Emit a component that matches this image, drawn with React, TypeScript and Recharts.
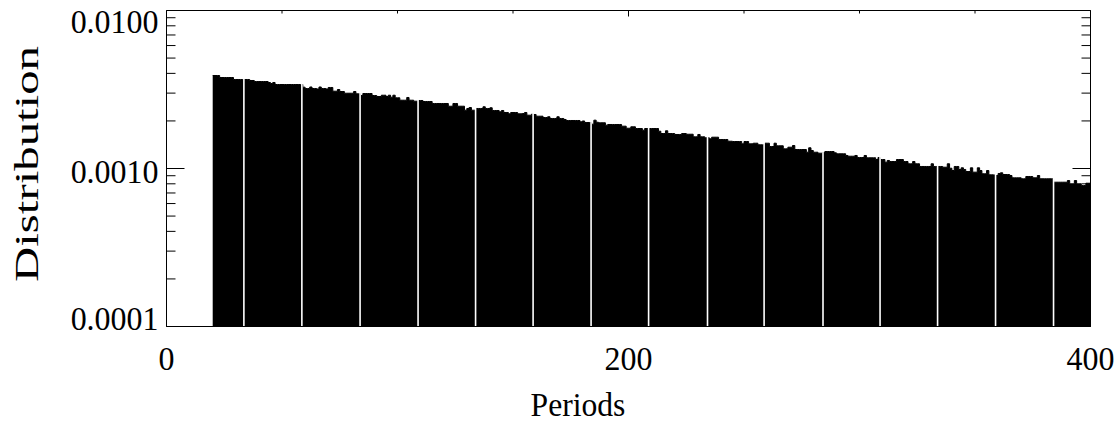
import { AreaChart, Area, XAxis, YAxis, ReferenceLine } from "recharts";

// histogram bins of width 1, starting at period 20
const firstPeriod = 20;
const binWidth = 1;

// bin heights, in units of 0.001 (periods 20..399)
const distributionMilli = [
  3.878, 3.878, 3.878, 3.766, 3.766, 3.766, 3.766, 3.766, 3.766, 3.659, // 20
  3.659, 3.659, 3.659, 3.659, 3.659, 3.659, 3.606, 3.606, 3.552, 3.552, // 30
  3.552, 3.552, 3.552, 3.552, 3.502, 3.451, 3.502, 3.401, 3.401, 3.401, // 40
  3.401, 3.401, 3.401, 3.401, 3.401, 3.401, 3.401, 3.401, 3.401, 3.271, // 50
  3.209, 3.209, 3.28, 3.209, 3.209, 3.186, 3.28, 3.209, 3.209, 3.186, // 60
  3.257, 3.257, 3.085, 3.085, 3.162, 3.071, 3.071, 2.996, 2.996, 2.996, // 70
  2.996, 3.071, 2.97, 2.97, 2.897, 2.983, 2.983, 2.983, 2.983, 2.897, // 80
  2.897, 2.856, 2.856, 2.91, 2.91, 2.856, 2.91, 2.827, 2.91, 2.802, // 90
  2.802, 2.706, 2.706, 2.706, 2.815, 2.706, 2.706, 2.667, 2.667, 2.694, // 100
  2.694, 2.655, 2.655, 2.655, 2.655, 2.579, 2.579, 2.579, 2.579, 2.579, // 110
  2.579, 2.579, 2.479, 2.479, 2.579, 2.579, 2.479, 2.479, 2.479, 2.339, // 120
  2.398, 2.433, 2.339, 2.339, 2.398, 2.398, 2.398, 2.458, 2.398, 2.398, // 130
  2.423, 2.329, 2.329, 2.329, 2.285, 2.329, 2.262, 2.262, 2.219, 2.262, // 140
  2.262, 2.262, 2.219, 2.219, 2.229, 2.262, 2.175, 2.175, 2.207, 2.197, // 150
  2.143, 2.143, 2.143, 2.103, 2.103, 2.125, 2.073, 2.073, 2.073, 2.125, // 160
  2.073, 2.073, 2.043, 2.013, 2.013, 2.013, 2.013, 2.013, 2.013, 1.975, // 170
  1.999, 1.955, 1.955, 1.955, 1.907, 2.022, 1.963, 1.947, 1.947, 1.947, // 180
  1.88, 1.899, 1.899, 1.899, 1.899, 1.899, 1.899, 1.853, 1.853, 1.799, // 190
  1.799, 1.836, 1.836, 1.791, 1.791, 1.791, 1.747, 1.791, 1.791, 1.791, // 200
  1.791, 1.791, 1.791, 1.722, 1.665, 1.665, 1.732, 1.665, 1.665, 1.665, // 210
  1.642, 1.642, 1.642, 1.665, 1.665, 1.648, 1.648, 1.648, 1.587, 1.587, // 220
  1.642, 1.587, 1.587, 1.564, 1.564, 1.542, 1.578, 1.578, 1.578, 1.526, // 230
  1.526, 1.526, 1.526, 1.488, 1.488, 1.482, 1.482, 1.482, 1.482, 1.433, // 240
  1.482, 1.482, 1.433, 1.433, 1.446, 1.446, 1.413, 1.413, 1.413, 1.446, // 250
  1.446, 1.378, 1.378, 1.446, 1.392, 1.392, 1.392, 1.332, 1.332, 1.364, // 260
  1.364, 1.398, 1.319, 1.319, 1.319, 1.319, 1.319, 1.268, 1.352, 1.3, // 270
  1.268, 1.268, 1.25, 1.25, 1.263, 1.281, 1.281, 1.281, 1.281, 1.257, // 280
  1.239, 1.239, 1.239, 1.239, 1.209, 1.196, 1.196, 1.196, 1.209, 1.174, // 290
  1.174, 1.174, 1.209, 1.169, 1.169, 1.169, 1.169, 1.14, 1.174, 1.14, // 300
  1.14, 1.096, 1.124, 1.107, 1.107, 1.107, 1.14, 1.14, 1.14, 1.107, // 310
  1.107, 1.071, 1.071, 1.107, 1.071, 1.071, 1.03, 1.03, 1.03, 1.03, // 320
  1.03, 1.071, 1.03, 1.03, 1.03, 1.03, 1.019, 1.019, 1.071, 1.004, // 330
  0.971, 1.03, 1.03, 0.986, 1.01, 0.986, 0.957, 0.957, 1.01, 0.948, // 340
  0.948, 1.01, 0.971, 0.926, 0.926, 0.971, 0.912, 0.912, 0.91, 0.903, // 350
  0.93, 0.939, 0.916, 0.916, 0.916, 0.903, 0.873, 0.873, 0.873, 0.873, // 360
  0.861, 0.861, 0.89, 0.89, 0.89, 0.873, 0.873, 0.903, 0.861, 0.861, // 370
  0.861, 0.861, 0.861, 0.861, 0.819, 0.819, 0.819, 0.819, 0.819, 0.819, // 380
  0.839, 0.8, 0.8, 0.839, 0.8, 0.8, 0.78, 0.78, 0.807, 0.807, // 390
];

const xTicks = [0, 50, 100, 150, 200, 250, 300, 350, 400];
const xMajorTicks = [0, 200, 400];
const yTicks = [
  0.0001, 0.0002, 0.0003, 0.0004, 0.0005, 0.0006, 0.0007, 0.0008, 0.0009,
  0.001, 0.002, 0.003, 0.004, 0.005, 0.006, 0.007, 0.008, 0.009, 0.01,
];
const yMajorTicks = [0.0001, 0.001, 0.01];

// thin white seams that show up inside the filled histogram
const seamPeriods = [33.5, 58.6, 83.8, 108.9, 133.8, 158.7, 183.8, 208.7, 234.2, 258.7, 284.2, 308.9, 333.8, 358.9, 384.0];

const rows = distributionMilli.map((m, i) => ({
  period: firstPeriod + i * binWidth,
  value: m / 1000,
}));
// close the last step at the right edge of the final bin
rows.push({ period: firstPeriod + distributionMilli.length * binWidth, value: rows[rows.length - 1].value });

const PLOT_LEFT = 166.5;
const PLOT_RIGHT = 1090.5;
const PLOT_TOP = 10.5;
const PLOT_BOTTOM = 326.5;
const FONT = '"Liberation Serif", "Times New Roman", serif';

function YTick({ y, payload }: any) {
  const major = yMajorTicks.includes(payload.value);
  const len = major ? 18 : 9;
  const base = Math.min(Math.max(y + 14.5, 33), 330);
  return (
    <g>
      <line x1={PLOT_LEFT} x2={PLOT_LEFT + len} y1={y} y2={y} stroke="#000" />
      <line x1={PLOT_RIGHT - len} x2={PLOT_RIGHT} y1={y} y2={y} stroke="#000" />
      {major && (
        <g transform={`translate(158.5, ${base}) scale(0.94, 1)`}>
          <text textAnchor="end" fontFamily={FONT} fontSize={34} fill="#000">
            {payload.value.toFixed(4)}
          </text>
        </g>
      )}
    </g>
  );
}

function XTick({ x, payload }: any) {
  const major = xMajorTicks.includes(payload.value);
  const len = major ? 6 : 3;
  return (
    <g>
      <line x1={x} x2={x} y1={PLOT_BOTTOM} y2={PLOT_BOTTOM - len} stroke="#000" />
      <line x1={x} x2={x} y1={PLOT_TOP} y2={PLOT_TOP + len} stroke="#000" />
      {major && (
        <g transform={`translate(${x}, 369.5) scale(0.94, 1)`}>
          <text textAnchor="middle" fontFamily={FONT} fontSize={34} fill="#000">
            {payload.value}
          </text>
        </g>
      )}
    </g>
  );
}

function PeriodsLabel() {
  return (
    <g transform="translate(578, 416) scale(0.93, 1)">
      <text textAnchor="middle" fontFamily={FONT} fontSize={34} fill="#000">
        Periods
      </text>
    </g>
  );
}

function DistributionLabel() {
  return (
    <text
      transform="translate(38, 164) rotate(-90)"
      textAnchor="middle"
      fontFamily={FONT}
      fontSize={34}
      fill="#000"
      textLength={236}
      lengthAdjust="spacingAndGlyphs"
    >
      Distribution
    </text>
  );
}

export default function App() {
  return (
    <div style={{ position: "absolute", left: 0, top: 0, background: "#fff" }}>
      <AreaChart
        width={1119}
        height={423}
        data={rows}
        margin={{ top: 10.5, right: 28.5, bottom: 36.5, left: 0.5 }}
      >
        <XAxis
          type="number"
          dataKey="period"
          domain={[0, 400]}
          ticks={xTicks}
          interval={0}
          tick={XTick}
          tickLine={false}
          axisLine={{ stroke: "#000" }}
          height={60}
          label={<PeriodsLabel />}
        />
        <YAxis
          type="number"
          scale="log"
          domain={[0.0001, 0.01]}
          allowDataOverflow
          ticks={yTicks}
          interval={0}
          tick={YTick}
          tickLine={false}
          axisLine={{ stroke: "#000" }}
          width={166}
          label={<DistributionLabel />}
        />
        <Area
          type="stepAfter"
          dataKey="value"
          stroke="#000"
          strokeWidth={1}
          fill="#000"
          fillOpacity={1}
          dot={false}
          activeDot={false}
          isAnimationActive={false}
        />
        {seamPeriods.map((p) => (
          <ReferenceLine key={p} x={p} stroke="#fff" strokeWidth={1.6} />
        ))}
        <ReferenceLine y={0.01} stroke="#000" />
        <ReferenceLine y={0.0001} stroke="#000" />
        <ReferenceLine x={400} stroke="#000" />
      </AreaChart>
    </div>
  );
}
